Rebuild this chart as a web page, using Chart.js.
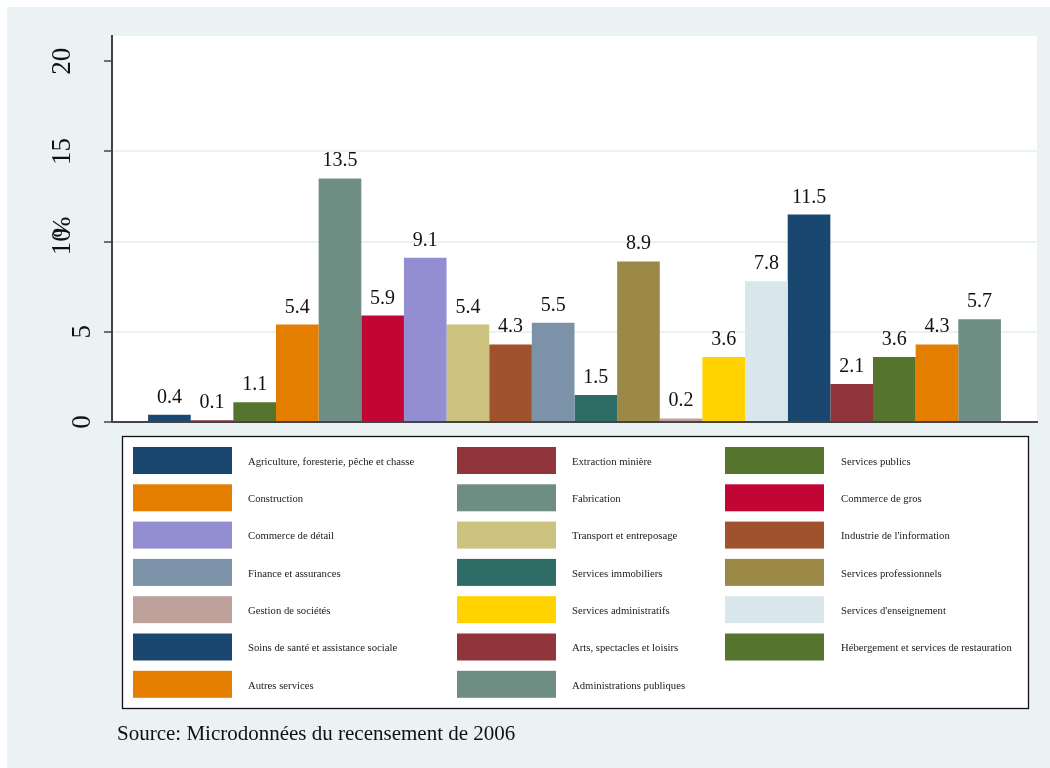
<!DOCTYPE html>
<html>
<head>
<meta charset="utf-8">
<script src="https://cdn.jsdelivr.net/npm/chart.js@4.4.1/dist/chart.umd.min.js"></script>
<style>
  html, body { margin: 0; padding: 0; background: #ffffff; }
  #wrap { width: 1050px; height: 768px; }
</style>
</head>
<body>
<div id="wrap"><canvas id="c" width="1050" height="768"></canvas></div>
<script>
// ---- data ----
const categories = [
  "Agriculture, foresterie, pêche et chasse",
  "Extraction minière",
  "Services publics",
  "Construction",
  "Fabrication",
  "Commerce de gros",
  "Commerce de détail",
  "Transport et entreposage",
  "Industrie de l'information",
  "Finance et assurances",
  "Services immobiliers",
  "Services professionnels",
  "Gestion de sociétés",
  "Services administratifs",
  "Services d'enseignement",
  "Soins de santé et assistance sociale",
  "Arts, spectacles et loisirs",
  "Hébergement et services de restauration",
  "Autres services",
  "Administrations publiques"
];
const values = [0.4, 0.1, 1.1, 5.4, 13.5, 5.9, 9.1, 5.4, 4.3, 5.5, 1.5, 8.9, 0.2, 3.6, 7.8, 11.5, 2.1, 3.6, 4.3, 5.7];
const palette = [
  "#1A476F", "#90353B", "#55752F", "#E37E00", "#6E8E84",
  "#C10534", "#938DD2", "#CAC27E", "#A0522D", "#7B92A8",
  "#2D6D66", "#9C8847", "#BFA19C", "#FFD200", "#D9E6EB",
  "#1A476F", "#90353B", "#55752F", "#E37E00", "#6E8E84"
];
const yTicks = [0, 5, 10, 15, 20];
const gridTicks = [5, 10, 15];
const yTitle = "%";
const sourceNote = "Source: Microdonnées du recensement de 2006";

const SERIF = "'Liberation Serif', 'DejaVu Serif', serif";

const datasets = categories.map((name, i) => ({
  label: name,
  data: [values[i]],
  backgroundColor: palette[i],
  borderWidth: 0
}));

const bgPlugin = {
  id: 'bg',
  beforeDraw(chart) {
    const ctx = chart.ctx, a = chart.chartArea;
    ctx.save();
    ctx.fillStyle = '#ffffff';
    ctx.fillRect(0, 0, chart.width, chart.height);
    ctx.fillStyle = '#EAF2F3';
    ctx.fillRect(7, 7, chart.width - 7, chart.height - 7);
    ctx.fillStyle = '#ffffff';
    ctx.fillRect(a.left, a.top, a.right - a.left, a.bottom - a.top);
    ctx.restore();
  }
};

const labelPlugin = {
  id: 'labels',
  afterDraw(chart) {
    const ctx = chart.ctx;
    const ys = chart.scales.y;
    ctx.save();
    // y tick labels, rotated
    ctx.fillStyle = '#111';
    ctx.font = '27px ' + SERIF;
    ctx.textAlign = 'center';
    ctx.textBaseline = 'alphabetic';
    ys.ticks.forEach(t => {
      const txt = String(t.value);
      const py = ys.getPixelForValue(t.value);
      const bx = txt.length > 1 ? 70 : 90;
      ctx.save();
      ctx.translate(bx, py);
      ctx.rotate(-Math.PI / 2);
      ctx.fillText(txt, 0, 0);
      ctx.restore();
    });
    // y title
    ctx.save();
    ctx.font = '25px ' + SERIF;
    ctx.translate(70, ys.getPixelForValue(10.8));
    ctx.rotate(-Math.PI / 2);
    ctx.fillText(yTitle, 0, 0);
    ctx.restore();

    // value labels
    ctx.font = '20px ' + SERIF;
    ctx.textAlign = 'center';
    chart.data.datasets.forEach((ds, i) => {
      const el = chart.getDatasetMeta(i).data[0];
      ctx.fillText(ds.data[0].toFixed(1), el.x, el.y - 12);
    });

    // legend
    const L = { x: 122.5, y: 436.5, w: 906, h: 272 };
    ctx.fillStyle = '#ffffff';
    ctx.fillRect(L.x, L.y, L.w, L.h);
    ctx.strokeStyle = '#111';
    ctx.lineWidth = 1.3;
    ctx.strokeRect(L.x, L.y, L.w, L.h);
    const swX = [133, 457, 725];
    const txX = [248, 572, 841];
    const rowY0 = 447, rowH = 37.3;
    ctx.font = '10.7px ' + SERIF;
    ctx.textAlign = 'left';
    ctx.textBaseline = 'middle';
    chart.data.datasets.forEach((ds, i) => {
      const col = i % 3, row = Math.floor(i / 3);
      const y = rowY0 + row * rowH;
      ctx.fillStyle = ds.backgroundColor;
      ctx.fillRect(swX[col], y, 99, 27);
      ctx.fillStyle = '#1a1a1a';
      ctx.fillText(ds.label, txX[col], y + 15);
    });

    // source
    ctx.font = '21px ' + SERIF;
    ctx.fillStyle = '#111';
    ctx.textBaseline = 'alphabetic';
    ctx.fillText(sourceNote, 117, 740);
    ctx.restore();
  }
};

new Chart(document.getElementById('c'), {
  type: 'bar',
  data: { labels: [''], datasets },
  plugins: [bgPlugin, labelPlugin],
  options: {
    responsive: false,
    animation: false,
    devicePixelRatio: 1,
    layout: { padding: { left: 112, top: 36, right: 13, bottom: 346 } },
    datasets: { bar: { categoryPercentage: 0.922, barPercentage: 1, grouped: true } },
    plugins: { legend: { display: false }, tooltip: { enabled: false } },
    scales: {
      x: {
        type: 'category',
        ticks: { display: false },
        grid: { display: false },
        border: { display: true, color: '#444', width: 2 },
        afterFit(s) { s.height = 0; }
      },
      y: {
        min: 0,
        max: 21.4,
        afterBuildTicks(s) { s.ticks = yTicks.map(v => ({ value: v })); },
        ticks: { display: false, includeBounds: false },
        grid: {
          color: c => (c.tick && gridTicks.includes(c.tick.value)) ? '#EAF2F3' : 'rgba(0,0,0,0)',
          lineWidth: 2,
          tickColor: '#444',
          tickLength: 8,
          tickWidth: 1.5
        },
        border: { display: true, color: '#444', width: 2 },
        afterFit(s) { s.width = 0; }
      }
    }
  }
});
</script>
</body>
</html>
